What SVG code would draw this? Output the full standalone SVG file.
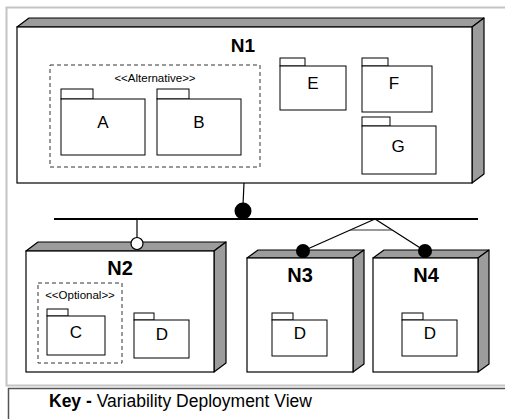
<svg xmlns="http://www.w3.org/2000/svg" width="505" height="419" viewBox="0 0 505 419">
<style>
.face{fill:#ffffff;stroke:#000;stroke-width:1.2}
.side{fill:#9c9c9c;stroke:#000;stroke-width:1.2;stroke-linejoin:round}
.pkg{fill:#ffffff;stroke:#000;stroke-width:1}
.dash{fill:none;stroke:#333;stroke-width:1;stroke-dasharray:4,3}
.nlab{font-family:"Liberation Sans",Arial,sans-serif;font-weight:bold;text-anchor:middle;fill:#000}
.plab{font-family:"Liberation Sans",Arial,sans-serif;font-size:17px;text-anchor:middle;fill:#000}
.st{font-family:"Liberation Sans",Arial,sans-serif;font-size:11.5px;text-anchor:middle;fill:#000}
.ln{stroke:#000;stroke-width:1.2;fill:none}
</style>
<rect x="0" y="0" width="505" height="419" fill="#ffffff"/>
<g id="frame">
<path d="M505,7.5 H6.5 V385.5 H505" fill="none" stroke="#c4c4c4" stroke-width="2"/>
<path d="M505,388.5 H8.5 V419" fill="none" stroke="#555" stroke-width="1.5"/>
</g>
<g id="N1">
<polygon class="side" points="17,27 29,18 484,18 472,27"/>
<polygon class="side" points="472,27 484,18 484,174 472,183"/>
<rect class="face" x="17" y="27" width="455" height="156"/>
<text class="nlab" x="243" y="52" font-size="19">N1</text>
<g id="alt">
<rect class="dash" x="50" y="65" width="210" height="102"/>
<text class="st" x="155" y="82">&lt;&lt;Alternative&gt;&gt;</text>
</g>
<g id="A"><rect class="pkg" x="61" y="89" width="32" height="10"/><rect class="pkg" x="61" y="99" width="84" height="56"/><text class="plab" x="103" y="128">A</text></g>
<g id="B"><rect class="pkg" x="157" y="89" width="32" height="10"/><rect class="pkg" x="157" y="99" width="84" height="56"/><text class="plab" x="199" y="128">B</text></g>
<g id="E"><rect class="pkg" x="280" y="58" width="25" height="8"/><rect class="pkg" x="280" y="66" width="66" height="44"/><text class="plab" x="313" y="89">E</text></g>
<g id="F"><rect class="pkg" x="362" y="58" width="26" height="8"/><rect class="pkg" x="362" y="66" width="70" height="46"/><text class="plab" x="394" y="89">F</text></g>
<g id="G"><rect class="pkg" x="362" y="117" width="28" height="9"/><rect class="pkg" x="362" y="126" width="74" height="48"/><text class="plab" x="398" y="152">G</text></g>
</g>
<g id="N2">
<polygon class="side" points="26,251 38,242 226,242 214,251"/>
<polygon class="side" points="214,251 226,242 226,363 214,372"/>
<rect class="face" x="26" y="251" width="188" height="121"/>
<text class="nlab" x="120" y="275" font-size="20">N2</text>
<g id="opt">
<rect class="dash" x="38" y="283" width="84" height="80"/>
<text class="st" x="80" y="299">&lt;&lt;Optional&gt;&gt;</text>
</g>
<g id="C"><rect class="pkg" x="47" y="309" width="21" height="7"/><rect class="pkg" x="47" y="316" width="58" height="39"/><text class="plab" x="76" y="338">C</text></g>
<g id="D2"><rect class="pkg" x="134" y="313" width="20" height="7"/><rect class="pkg" x="134" y="320" width="55" height="38"/><text class="plab" x="162" y="340">D</text></g>
</g>
<g id="N3">
<polygon class="side" points="247,258 258,250 364,250 353,258"/>
<polygon class="side" points="353,258 364,250 364,364 353,372"/>
<rect class="face" x="247" y="258" width="106" height="114"/>
<text class="nlab" x="300" y="282" font-size="20">N3</text>
<g id="D3"><rect class="pkg" x="272" y="313" width="21" height="7"/><rect class="pkg" x="272" y="320" width="55" height="36"/><text class="plab" x="300" y="339">D</text></g>
</g>
<g id="N4">
<polygon class="side" points="373,258 384,250 489,250 478,258"/>
<polygon class="side" points="478,258 489,250 489,364 478,372"/>
<rect class="face" x="373" y="258" width="105" height="114"/>
<text class="nlab" x="426" y="282" font-size="20">N4</text>
<g id="D4"><rect class="pkg" x="402" y="313" width="21" height="7"/><rect class="pkg" x="402" y="320" width="55" height="36"/><text class="plab" x="430" y="339">D</text></g>
</g>
<g id="connectors">
<line class="ln" x1="244" y1="183" x2="243" y2="205"/>
<line x1="54" y1="219" x2="478" y2="219" stroke="#000" stroke-width="2"/>
<circle cx="243" cy="211" r="8.5" fill="#000"/>
<line class="ln" x1="137" y1="219" x2="137" y2="238"/>
<circle cx="137" cy="243.5" r="6" fill="#fff" stroke="#000" stroke-width="1.2"/>
<line class="ln" x1="375" y1="219" x2="303" y2="251"/>
<line class="ln" x1="375" y1="219" x2="425" y2="251"/>
<line x1="350" y1="230" x2="392" y2="230" stroke="#333" stroke-width="1"/>
<circle cx="303" cy="251" r="7" fill="#000"/>
<circle cx="425" cy="251" r="7" fill="#000"/>
</g>
<g id="key">
<text x="49" y="407" font-family="'Liberation Sans',Arial,sans-serif" font-size="17.5" fill="#000"><tspan font-weight="bold">Key -</tspan> Variability Deployment View</text>
</g>
</svg>
